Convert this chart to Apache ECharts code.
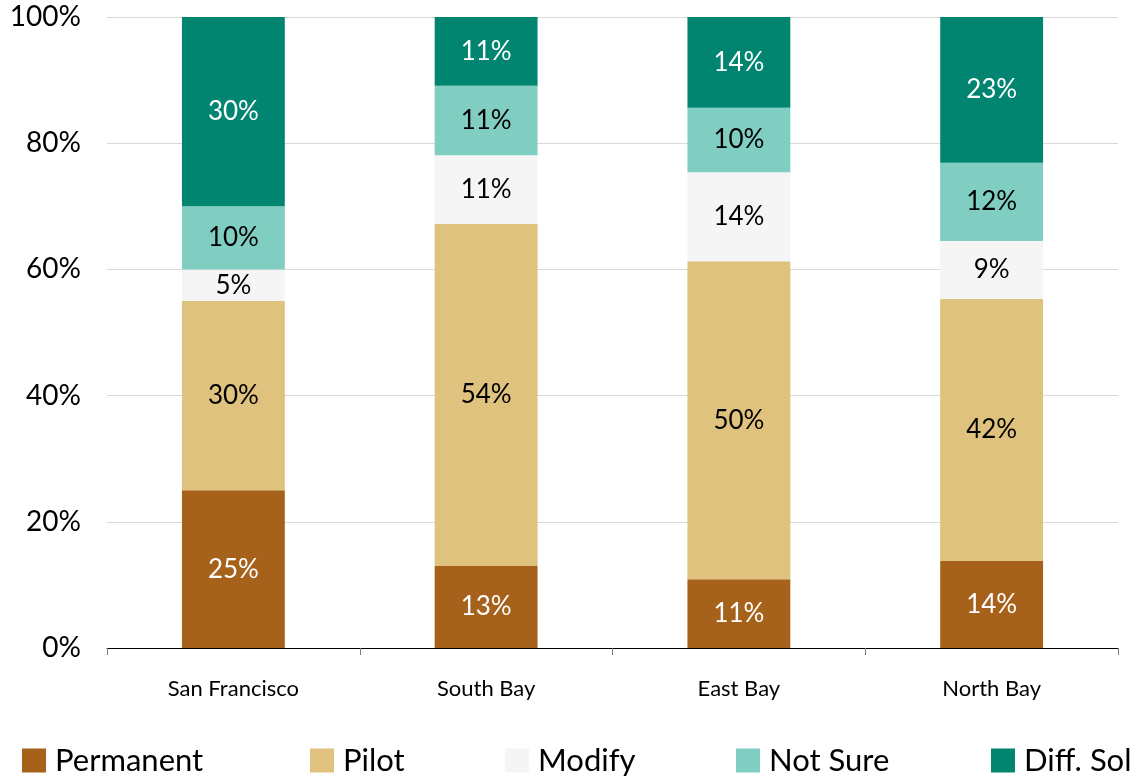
<!DOCTYPE html>
<html><head><meta charset="utf-8">
<script src="https://cdn.jsdelivr.net/npm/echarts@6/dist/echarts.min.js"></script>
<style>html,body{margin:0;padding:0;background:#fff}#c{width:1134px;height:777px}</style>
</head><body><div id="c"></div>
<script>
const categories = ['San Francisco', 'South Bay', 'East Bay', 'North Bay'];
const seriesNames = ['Permanent', 'Pilot', 'Modify', 'Not Sure', 'Diff. Sol'];
const permanent = [25, 13, 10.9, 13.8];
const pilot = [30, 54.2, 50.4, 41.5];
const modify = [5, 10.9, 14.1, 9.2];
const notSure = [10, 11, 10.2, 12.4];
const diffSol = [30, 10.9, 14.4, 23.1];
const yTicks = [0, 20, 40, 60, 80, 100];

const colors = ['#A6611A', '#DFC27D', '#F5F5F5', '#80CDC1', '#018571'];
const labelColors = ['#fff', '#000', '#000', '#000', '#fff'];
const values = [permanent, pilot, modify, notSure, diffSol];
const FONT = 'Lato';

const legendLeft = [22, 310, 505, 736, 991];
const chart = echarts.init(document.getElementById('c'));
chart.setOption({
  animation: false,
  textStyle: { fontFamily: FONT },
  grid: { left: 107, right: 16, top: 17, bottom: 129 },
  legend: seriesNames.map((n, i) => ({
    data: [n], left: legendLeft[i], bottom: 1,
    itemWidth: 24, itemHeight: 24, icon: 'rect', padding: 0,
    textStyle: { fontSize: 31, color: '#000', fontFamily: FONT, padding: [0, 0, 0, 4] },
    itemGap: 0, selectedMode: false
  })),
  xAxis: {
    type: 'category', data: categories,
    axisLine: { lineStyle: { color: '#000', width: 1 } },
    axisTick: { show: true, length: 7, lineStyle: { color: '#7f7f7f' } },
    axisLabel: { fontSize: 22, color: '#000', margin: 30, fontFamily: FONT }
  },
  yAxis: {
    type: 'value', min: 0, max: 100, interval: 20,
    axisLine: { show: false }, axisTick: { show: false },
    splitLine: { lineStyle: { color: '#d9d9d9' } },
    axisLabel: { fontSize: 28, color: '#000', margin: 26, fontFamily: FONT,
      formatter: v => yTicks.includes(v) ? v + '%' : '' }
  },
  series: seriesNames.map((n, i) => ({
    name: n, type: 'bar', stack: 'total', data: values[i],
    barWidth: '40.7%',
    itemStyle: { color: colors[i] },
    label: { show: true, position: 'inside', fontSize: 26, color: labelColors[i], fontFamily: FONT,
      formatter: p => Math.round(p.value) + '%' }
  }))
});
</script></body></html>
